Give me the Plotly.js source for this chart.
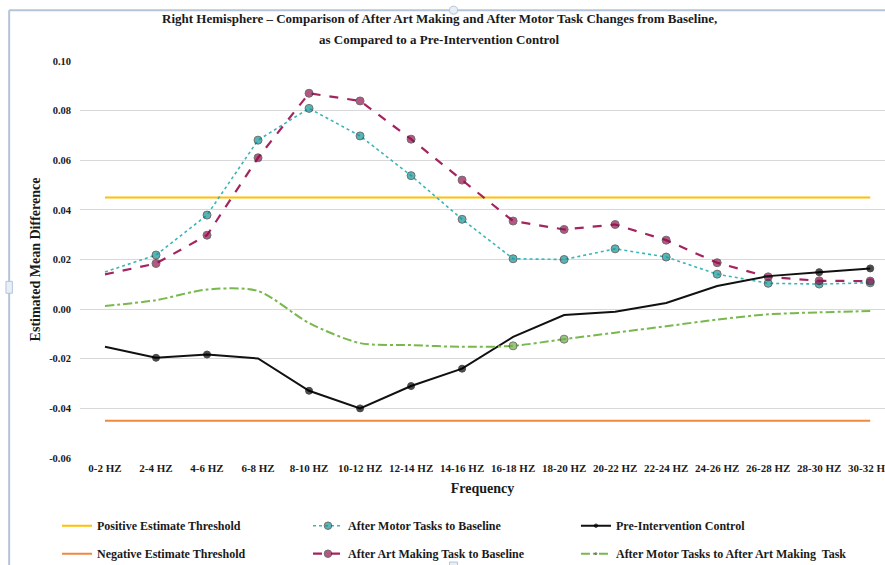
<!DOCTYPE html>
<html>
<head>
<meta charset="utf-8">
<script src="https://cdn.plot.ly/plotly-3.0.1.min.js"></script>
<style>html,body{margin:0;padding:0;background:#fff;}#chart{width:885px;height:565px;}</style>
</head>
<body>
<div id="chart"></div>
<script>
var titleLines = ["Right Hemisphere – Comparison of After Art Making and After Motor Task Changes from Baseline,", "as Compared to a Pre-Intervention Control"];
var categories = ["0-2 HZ","2-4 HZ","4-6 HZ","6-8 HZ","8-10 HZ","10-12 HZ","12-14 HZ","14-16 HZ","16-18 HZ","18-20 HZ","20-22 HZ","22-24 HZ","24-26 HZ","26-28 HZ","28-30 HZ","30-32 HZ"];
var positiveThreshold = [0.045,0.045,0.045,0.045,0.045,0.045,0.045,0.045,0.045,0.045,0.045,0.045,0.045,0.045,0.045,0.045];
var negativeThreshold = [-0.045,-0.045,-0.045,-0.045,-0.045,-0.045,-0.045,-0.045,-0.045,-0.045,-0.045,-0.045,-0.045,-0.045,-0.045,-0.045];
var motorToBaseline = [0.0150,0.0218,0.0379,0.0681,0.0809,0.0698,0.0538,0.0362,0.0203,0.0200,0.0243,0.0210,0.0141,0.0104,0.0101,0.0106];
var artToBaseline = [0.0140,0.0184,0.0298,0.0610,0.0870,0.0839,0.0685,0.0520,0.0355,0.0321,0.0341,0.0278,0.0187,0.0130,0.0114,0.0113];
var preControl = [-0.0152,-0.0196,-0.0183,-0.0199,-0.0329,-0.0400,-0.0310,-0.0240,-0.0112,-0.0024,-0.0011,0.0025,0.0093,0.0133,0.0149,0.0164];
var motorToArt = [0.0013,0.0036,0.0079,0.0073,-0.0056,-0.0137,-0.0145,-0.0152,-0.0148,-0.0121,-0.0095,-0.0069,-0.0042,-0.0021,-0.0013,-0.0008];
var yTicks = [-0.06,-0.04,-0.02,0.00,0.02,0.04,0.06,0.08,0.10];
var yTickText = ["-0.06","-0.04","-0.02","0.00","0.02","0.04","0.06","0.08","0.10"];

// marker styling (which points show a marker in the original)
var tealMarkerSize = [0,8,8,8,8,8,8,8,8,8,8,8,8,8,8,8];
var magMarkerSize = [0,8,8,8,8,8,8,8,8,8,8,8,8,8,8,8];
var blackMarkerSize = [0,7,7,0,7,7,7,7,0,0,0,0,0,0,7,7];
var greenMarkerSize = [0,0,0,0,0,0,0,0,8,8,0,0,0,0,0,0];

var xIdx = categories.map(function(c,i){return i;});
var F = "Liberation Serif, Times New Roman, serif";
var txt = "#1a1a1a";

var traces = [
 {x:xIdx,y:positiveThreshold,name:"Positive Estimate Threshold",mode:"lines",line:{color:"#ffc000",width:2},legend:"legend",legendgroup:"a"},
 {x:xIdx,y:negativeThreshold,name:"Negative Estimate Threshold",mode:"lines",line:{color:"#f0883e",width:2},legend:"legend",legendgroup:"b"},
 {x:xIdx,y:motorToBaseline,name:"After Motor Tasks to Baseline",mode:"lines+markers",line:{color:"#3bb5b8",width:1.6,dash:"dot"},marker:{size:tealMarkerSize,color:"#139598",line:{color:"#333",width:1}},legend:"legend2",legendgroup:"c"},
 {x:xIdx,y:artToBaseline,name:"After Art Making Task to Baseline",mode:"lines+markers",line:{color:"#a3245e",width:2.2,dash:"dash"},marker:{size:magMarkerSize,color:"#960f50",line:{color:"#333",width:1}},legend:"legend2",legendgroup:"d"},
 {x:xIdx,y:preControl,name:"Pre-Intervention Control",mode:"lines+markers",line:{color:"#111",width:2},marker:{size:blackMarkerSize,color:"#000",line:{color:"#000",width:1}},legend:"legend3",legendgroup:"e"},
 {x:xIdx,y:motorToArt,name:"After Motor Tasks to After Art Making  Task",mode:"lines+markers",line:{color:"#78b84c",width:2,dash:"dashdot",shape:"spline",smoothing:0.8},marker:{size:greenMarkerSize,color:"#70ad47",line:{color:"#444",width:1}},legend:"legend3",legendgroup:"f"}
];

var legBase = {orientation:"v",yanchor:"top",y:-0.134,font:{family:F,size:12,color:txt,weight:"bold"},bgcolor:"rgba(0,0,0,0)",tracegroupgap:9,itemwidth:30};
function leg(x){var o=JSON.parse(JSON.stringify(legBase));o.x=x;o.xanchor="left";return o;}

var border = "#b4c4d9";
var layout = {
 width:885,height:565,
 margin:{l:80,r:0,t:61,b:107,autoexpand:false},
 paper_bgcolor:"#fff",plot_bgcolor:"#fff",
 annotations:[
  {text:titleLines[0],xref:"paper",yref:"paper",x:0.447,y:1.1083,xanchor:"center",yanchor:"middle",showarrow:false,font:{family:F,size:13,color:txt,weight:"bold"}},
  {text:titleLines[1],xref:"paper",yref:"paper",x:0.447,y:1.0529,xanchor:"center",yanchor:"middle",showarrow:false,font:{family:F,size:13,color:txt,weight:"bold"}}
 ],
 xaxis:{type:"linear",range:[-0.49,15.29],tickvals:xIdx,ticktext:categories,showgrid:false,zeroline:false,showline:false,ticks:"",ticklabelstandoff:2,ticklabeloverflow:"allow",tickfont:{family:F,size:11,color:txt,weight:"bold"},title:{text:"Frequency",font:{family:F,size:14,color:txt,weight:"bold"},standoff:10},automargin:false,fixedrange:true},
 yaxis:{range:[-0.06,0.10],tickvals:yTicks,ticktext:yTickText,showgrid:true,gridcolor:"#d9d9d9",gridwidth:1,zeroline:false,showline:false,ticks:"",ticklabelstandoff:8,tickfont:{family:F,size:10.5,color:txt,weight:"bold"},title:{text:"Estimated Mean Difference",font:{family:F,size:14,color:txt,weight:"bold"},standoff:5},automargin:false,fixedrange:true},
 legend:leg(-0.0286),
 legend2:leg(0.2832),
 legend3:leg(0.6161),
 shapes:[
  {type:"line",xref:"paper",yref:"paper",x0:-0.088,x1:1.01,y0:1.128,y1:1.128,line:{color:border,width:2}},
  {type:"line",xref:"paper",yref:"paper",x0:-0.088,x1:-0.088,y0:1.128,y1:-0.28,line:{color:border,width:2}},
  {type:"circle",xref:"paper",yref:"paper",x0:0.459,x1:0.469,y0:1.118,y1:1.138,line:{color:border,width:1},fillcolor:"#e8eef6"},
  {type:"rect",xref:"paper",yref:"paper",x0:-0.092,x1:-0.084,y0:0.415,y1:0.445,line:{color:border,width:1},fillcolor:"#e8eef6"},
  {type:"rect",xref:"paper",yref:"paper",x0:0.459,x1:0.469,y0:-0.262,y1:-0.28,line:{color:border,width:1},fillcolor:"#e8eef6"}
 ],
 showlegend:true
};
Plotly.newPlot("chart",traces,layout,{displayModeBar:false,staticPlot:true});
</script>
</body>
</html>
